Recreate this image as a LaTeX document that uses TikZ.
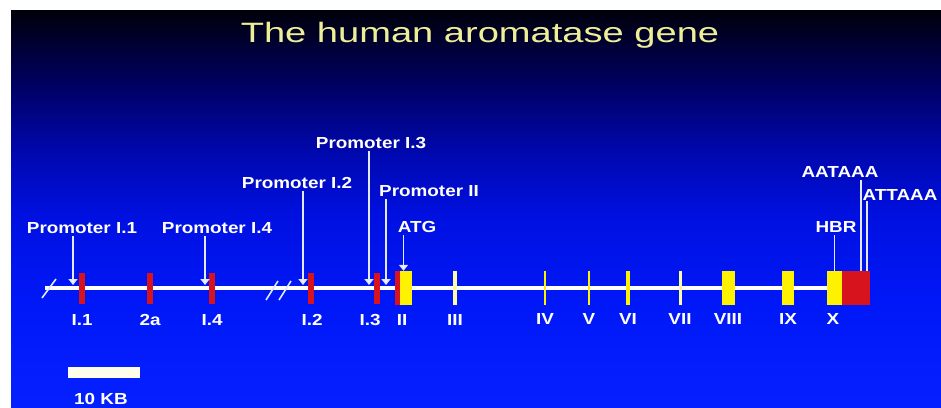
\documentclass[tikz,border=0pt]{standalone}
\usepackage{fontspec}
\setmainfont{Liberation Sans}
\usetikzlibrary{arrows.meta, positioning}
\definecolor{exred}{RGB}{215, 20, 30}
\definecolor{exyel}{RGB}{255, 242, 0}
\definecolor{titleyel}{RGB}{238, 238, 150}
\definecolor{linewhite}{RGB}{225, 232, 255}
\definecolor{bgtop}{RGB}{0, 0, 10}
\definecolor{bgzero}{RGB}{0, 0, 95}
\definecolor{bgone}{RGB}{0, 8, 175}
\definecolor{bgtwo}{RGB}{0, 16, 225}
\definecolor{bgthree}{RGB}{0, 24, 248}
\definecolor{bgbot}{RGB}{5, 32, 255}
\pgfdeclareverticalshading{slidebg}{100bp}{color(0bp)=(bgbot); color(25bp)=(bgbot); color(38bp)=(bgthree); color(49bp)=(bgtwo); color(57bp)=(bgone); color(66bp)=(bgzero); color(75bp)=(bgtop); color(100bp)=(bgtop)}

\begin{document}
\begin{tikzpicture}[x=1pt, y=-1pt,
  lbl/.style={text=white, font=\bfseries\fontsize{16}{16}\selectfont, inner sep=0pt, xscale=1.18, anchor=base},
  redex/.style={fill=exred, inner sep=0pt, minimum width=6pt, minimum height=31pt},
  yelbox/.style={fill=exyel, inner sep=0pt, minimum height=34pt, minimum width=#1},
  thinex/.style={fill=#1, inner sep=0pt, minimum height=34pt},
  parrow/.style={draw=linewhite, line width=1.8pt, shorten <=3pt, -{Triangle[width=9pt,length=6pt,fill=white]}},
  pline/.style={draw=linewhite, line width=1.8pt, shorten <=3pt},
  brk/.style={draw=linewhite, line width=1.6pt},
  geneline/.style={draw=white, line width=4pt}
]
  \fill[white] (0,0) rectangle (941,407);
  \shade[shading=slidebg] (11,10) rectangle (941,407);
  \useasboundingbox (0,0) rectangle (941,407);

  \node[text=titleyel, font=\fontsize{28}{28}\selectfont, inner sep=0pt, xscale=1.36, anchor=base] (title) at (480,42) {The human aromatase gene};

  \coordinate (gstart) at (45,288);
  \coordinate (gend) at (842,288);
  \draw[geneline] (gstart) -- (gend);
  \draw[brk] (42,298) -- (56,279);
  \draw[brk] (266,300) -- (278,281);
  \draw[brk] (279,300) -- (291,281);

  \node[redex] (e11) at (82,288) {};
  \node[redex] (e2a) at (150,288) {};
  \node[redex] (e14) at (212,288) {};
  \node[redex] (e12) at (311,288) {};
  \node[redex] (e13) at (377,288) {};
  \node[yelbox=17pt] (e2) at (403.5,288) {};
  \node[redex, minimum width=5pt, minimum height=34pt, anchor=west] (e2r) at (e2.west) {};
  \node[thinex=exyel!35!white, minimum width=4pt] (e3) at (455,288) {};
  \node[thinex=exyel, minimum width=2.5pt] (e4) at (545,288) {};
  \node[thinex=exyel, minimum width=2.5pt] (e5) at (589,288) {};
  \node[thinex=exyel, minimum width=4pt] (e6) at (628,288) {};
  \node[thinex=exyel!35!white, minimum width=3pt] (e7) at (680,288) {};
  \node[yelbox=13pt] (e8) at (728.5,288) {};
  \node[yelbox=12pt] (e9) at (788,288) {};
  \node[yelbox=15pt] (e10) at (834.5,288) {};
  \node[fill=exred, inner sep=0pt, minimum width=28pt, minimum height=34pt, anchor=west] (utr) at (e10.east) {};

  \node[lbl] (l11) at (82,325) {I.1};
  \node[lbl] (l2a) at (150,325) {2a};
  \node[lbl] (l14) at (212,325) {I.4};
  \node[lbl] (l12) at (312,325) {I.2};
  \node[lbl] (l13) at (370,325) {I.3};
  \node[lbl] (l2) at (402,325) {II};
  \node[lbl] (l3) at (455,325) {III};
  \node[lbl] (l4) at (545,324) {IV};
  \node[lbl] (l5) at (589,324) {V};
  \node[lbl] (l6) at (628,324) {VI};
  \node[lbl] (l7) at (680,324) {VII};
  \node[lbl] (l8) at (728,324) {VIII};
  \node[lbl] (l9) at (788,324) {IX};
  \node[lbl] (l10) at (833,324) {X};

  \node[lbl] (p11) at (82,233) {Promoter I.1};
  \node[lbl] (p14) at (217,233) {Promoter I.4};
  \node[lbl] (p12) at (297,188) {Promoter I.2};
  \node[lbl] (p13) at (371,148) {Promoter I.3};
  \node[lbl] (p2) at (429,196) {Promoter II};
  \node[lbl] (atg) at (417,232) {ATG};
  \node[lbl] (hbr) at (836,232) {HBR};
  \node[lbl] (aat) at (840,177) {AATAAA};
  \node[lbl] (att) at (900,200) {ATTAAA};

  \coordinate (t11) at (73,285);
  \coordinate (t14) at (205,285);
  \coordinate (t12) at (303,285);
  \coordinate (t13) at (369,285);
  \coordinate (t2) at (386,285);
  \coordinate (pa1) at (861,271);
  \coordinate (pa2) at (867,271);

  \draw[parrow] (p11.south -| t11) -- (t11);
  \draw[parrow] (p14.south -| t14) -- (t14);
  \draw[parrow] (p12.south -| t12) -- (t12);
  \draw[parrow] (p13.south -| t13) -- (t13);
  \draw[parrow] (p2.south -| t2) -- (t2);
  \draw[parrow] (atg.south -| e2.north) -- (e2.north);
  \draw[pline] (hbr.south -| e10.north) -- (e10.north);
  \draw[pline] (aat.south -| pa1) -- (pa1);
  \draw[pline, shorten <=1pt] (att.south -| pa2) -- (pa2);

  \node[fill=exyel!8!white, inner sep=0pt, minimum width=72pt, minimum height=11pt] (bar) at (104,372.5) {};
  \node[lbl] (kb) at (101,404) {10 KB};
\end{tikzpicture}
\end{document}
